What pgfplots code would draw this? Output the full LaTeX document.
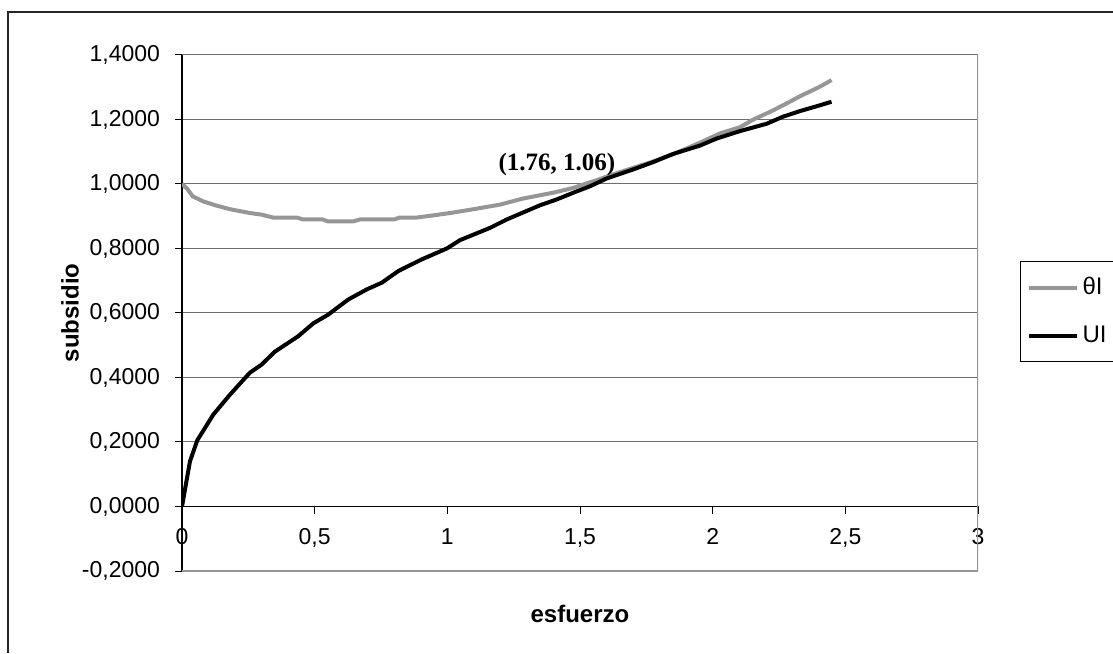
\documentclass[border=0pt]{standalone}
\usepackage{fontspec}
\setmainfont{Liberation Sans}
\newfontfamily\timesf{Liberation Serif}
\usepackage{pgfplots}
\pgfplotsset{compat=1.18}
\definecolor{thgray}{RGB}{150,150,150}
\definecolor{gridc}{RGB}{110,110,110}
\begin{document}
\begin{tikzpicture}
\useasboundingbox (0,0) rectangle (556.5pt,326.5pt);
\draw[line width=0.9pt,black!85] (4pt,0pt) -- (4pt,320.5pt) -- (556.5pt,320.5pt);
\begin{axis}[
  at={(91pt,41pt)}, anchor=south west,
  scale only axis, width=398pt, height=258pt,
  xmin=0, xmax=3, ymin=-0.2, ymax=1.4,
  axis x line=middle, axis y line=left,
  axis line style={-, black, line width=0.6pt},
  hide obscured x ticks=false,
  xtick={0,0.5,1,1.5,2,2.5,3},
  ytick={-0.2,0,0.2,0.4,0.6,0.8,1,1.2,1.4},
  tick align=outside, major tick length=3.5pt,
  tick style={black, line width=0.5pt},
  ymajorgrids, major grid style={gridc, line width=0.5pt},
  /pgf/number format/assume math mode=true,
  xticklabel style={/pgf/number format/use comma, font=\fontsize{11.5}{13}\selectfont, yshift=-4pt},
  yticklabel style={/pgf/number format/.cd, fixed, fixed zerofill, precision=4, use comma, 1000 sep={}, /tikz/.cd, font=\fontsize{11.5}{13}\selectfont, xshift=-4pt},
  xlabel={esfuerzo},
  xlabel style={font=\fontsize{12}{14}\selectfont\bfseries, at={(axis description cs:0.5,-0.083)}, anchor=center},
  legend style={at={(axis description cs:1.0528,0.503)}, anchor=west, draw=black, line width=0.5pt,
    font=\fontsize{12}{14}\selectfont, inner xsep=3pt, inner ysep=6pt, row sep=10pt},
  legend cell align=left,
  legend image code/.code={\draw[#1] (0pt,0pt) -- (24pt,0pt);},
]
\addplot[thgray, line width=2pt] coordinates {
(0,1.000) (0.02,0.985) (0.04,0.962) (0.08,0.946) (0.13,0.933) (0.18,0.922)
(0.256,0.910) (0.30,0.905) (0.343,0.896) (0.433,0.896) (0.456,0.890) (0.53,0.890)
(0.55,0.884) (0.645,0.884) (0.67,0.890) (0.80,0.890) (0.82,0.896) (0.885,0.896)
(0.95,0.903) (1.01,0.910) (1.10,0.922) (1.198,0.936) (1.286,0.955) (1.399,0.973)
(1.475,0.988) (1.574,1.015) (1.625,1.030) (1.70,1.050) (1.776,1.070) (1.85,1.092)
(1.952,1.128) (2.028,1.157) (2.103,1.176) (2.153,1.200) (2.22,1.225) (2.279,1.250)
(2.329,1.272) (2.40,1.300) (2.448,1.322)
};
\addlegendentry{θI}
\addplot[black, line width=2pt] coordinates {
(0,0) (0.015,0.07) (0.03,0.14) (0.058,0.206) (0.118,0.285) (0.181,0.347)
(0.256,0.415) (0.30,0.44) (0.35,0.48) (0.438,0.528) (0.495,0.568) (0.551,0.595)
(0.627,0.642) (0.696,0.673) (0.753,0.694) (0.815,0.73) (0.903,0.766) (0.998,0.80)
(1.048,0.826) (1.161,0.864) (1.224,0.89) (1.349,0.934) (1.412,0.952) (1.475,0.973)
(1.538,0.993) (1.60,1.017) (1.70,1.045) (1.776,1.068) (1.85,1.093) (1.952,1.119)
(2.015,1.141) (2.103,1.164) (2.204,1.187) (2.266,1.209) (2.329,1.226) (2.40,1.243)
(2.448,1.255)
};
\addlegendentry{UI}
\draw[thgray, line width=0.8pt] (axis cs:3,-0.2) -- (axis cs:3,1.4);
\draw[thgray, line width=0.8pt] (axis cs:0,-0.2) -- (axis cs:3,-0.2);
\node[font=\timesf\bfseries\fontsize{12.5}{14}\selectfont] at (axis cs:1.413,1.059) {(1.76, 1.06)};
\end{axis}
\node[rotate=90, font=\fontsize{12}{14}\selectfont\bfseries] at (35pt,170pt) {subsidio};
\end{tikzpicture}
\end{document}
